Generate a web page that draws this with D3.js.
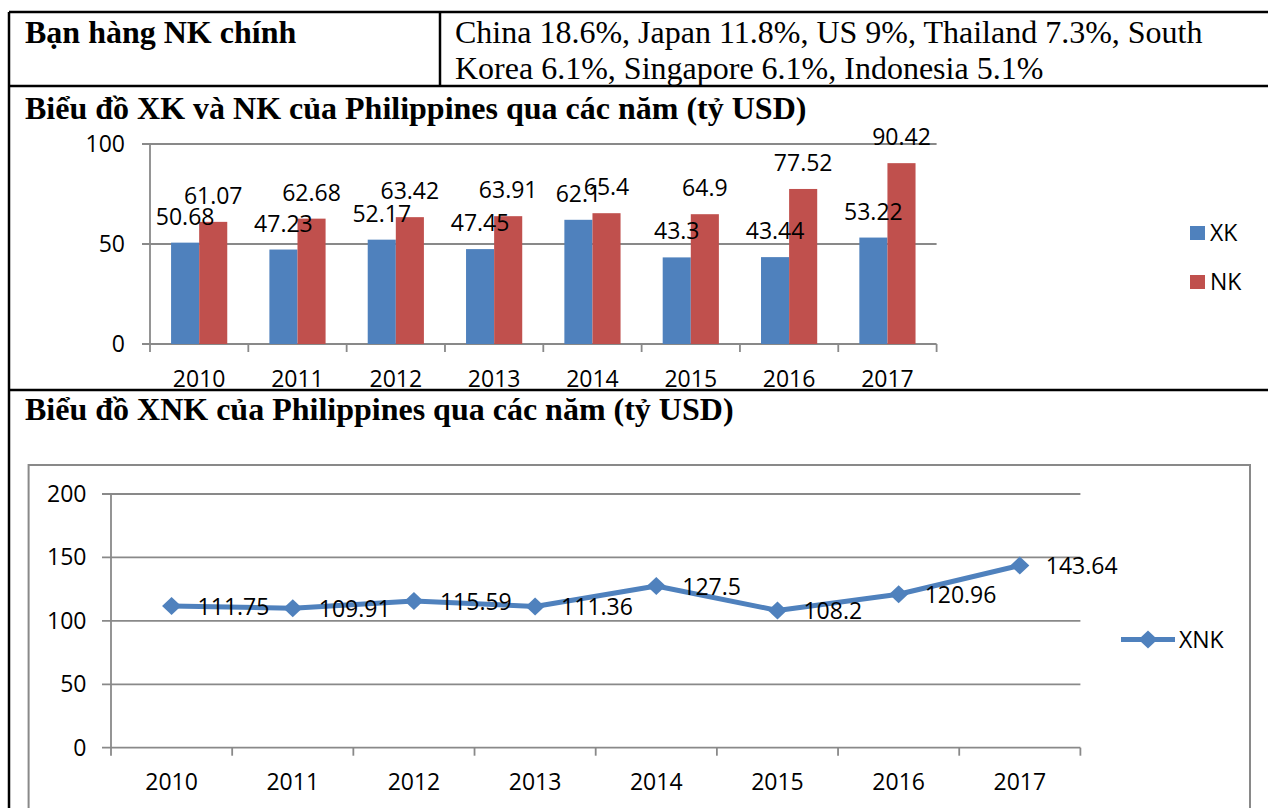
<!DOCTYPE html>
<html>
<head>
<meta charset="utf-8">
<script src="https://cdn.jsdelivr.net/npm/d3@7"></script>
<style>
  body { margin: 0; background: #fff; }
  .serif { font-family: "Liberation Serif", "Times New Roman", serif; font-size: 32px; fill: #000; }
  .lbl { font-family: "Open Sans", "Noto Sans", sans-serif; font-size: 23px; fill: #000; }
</style>
</head>
<body>
<svg id="page"></svg>
<script>
// data
const years = ["2010", "2011", "2012", "2013", "2014", "2015", "2016", "2017"];
const exportVals = [50.68, 47.23, 52.17, 47.45, 62.1, 43.3, 43.44, 53.22];
const importVals = [61.07, 62.68, 63.42, 63.91, 65.4, 64.9, 77.52, 90.42];
const totalVals = [111.75, 109.91, 115.59, 111.36, 127.5, 108.2, 120.96, 143.64];
const barSeries = ["XK", "NK"];
const lineSeries = ["XNK"];
const barTicks = [0, 50, 100];
const lineTicks = [0, 50, 100, 150, 200];
const partnerHead = "Bạn hàng NK chính";
const partnerText = ["China 18.6%, Japan 11.8%, US 9%, Thailand 7.3%, South",
                     "Korea 6.1%, Singapore 6.1%, Indonesia 5.1%"];
const barTitle = "Biểu đồ XK và NK của Philippines qua các năm (tỷ USD)";
const lineTitle = "Biểu đồ XNK của Philippines qua các năm (tỷ USD)";

const W = 1268, H = 808;
const blue = "#4f81bd", red = "#c0504d", grey = "#898989";

const svg = d3.select("#page")
    .attr("width", W)
    .attr("height", H);

svg.append("rect").attr("width", W).attr("height", H).attr("fill", "#fff");

// ---- table frame (word document look) ----
const frame = svg.append("g")
    .attr("stroke", "#000")
    .attr("stroke-width", 2.5);
frame.append("line").attr("x1", 9).attr("x2", W).attr("y1", 12).attr("y2", 12);
frame.append("line").attr("x1", 9).attr("x2", W).attr("y1", 86).attr("y2", 86);
frame.append("line").attr("x1", 9).attr("x2", W).attr("y1", 390).attr("y2", 390);
frame.append("line").attr("x1", 9).attr("x2", 9).attr("y1", 12).attr("y2", H);
frame.append("line").attr("x1", 440).attr("x2", 440).attr("y1", 12).attr("y2", 86);

svg.append("text")
    .attr("class", "serif")
    .attr("x", 25).attr("y", 43)
    .attr("font-weight", "bold")
    .text(partnerHead);

svg.append("g").selectAll("text")
    .data(partnerText)
    .enter().append("text")
    .attr("class", "serif")
    .attr("x", 455)
    .attr("y", (d, i) => 43 + i * 36)
    .text(d => d);

svg.append("text")
    .attr("class", "serif")
    .attr("x", 25).attr("y", 119)
    .attr("font-weight", "bold")
    .text(barTitle);

svg.append("text")
    .attr("class", "serif")
    .attr("x", 25).attr("y", 420)
    .attr("font-weight", "bold")
    .text(lineTitle);

// ---- bar chart ----
const bar = { left: 150, right: 936.6, top: 144, bottom: 344 };

const x0 = d3.scaleBand()
    .domain(years)
    .range([bar.left, bar.right]);

const x1 = d3.scaleBand()
    .domain(barSeries)
    .range([0, x0.bandwidth()])
    .paddingOuter(0.75);

const yBar = d3.scaleLinear()
    .domain([0, 100])
    .range([bar.bottom, bar.top]);

const colour = d3.scaleOrdinal()
    .domain(barSeries)
    .range([blue, red]);

const barG = svg.append("g");

barG.append("g").selectAll("line")
    .data(barTicks)
    .enter().append("line")
    .attr("x1", bar.left - 8)
    .attr("x2", bar.right)
    .attr("y1", d => yBar(d))
    .attr("y2", d => yBar(d))
    .attr("stroke", grey)
    .attr("stroke-width", 1.8);

barG.append("line")
    .attr("x1", bar.left).attr("x2", bar.left)
    .attr("y1", bar.top).attr("y2", bar.bottom)
    .attr("stroke", grey).attr("stroke-width", 1.8);

// tick marks at band edges
barG.append("g").selectAll("line")
    .data(years.map(d => x0(d)).concat([bar.right]))
    .enter().append("line")
    .attr("x1", d => d).attr("x2", d => d)
    .attr("y1", bar.bottom).attr("y2", bar.bottom + 8)
    .attr("stroke", grey).attr("stroke-width", 1.8);

barG.append("g").selectAll("text")
    .data(barTicks)
    .enter().append("text")
    .attr("class", "lbl")
    .attr("text-anchor", "end")
    .attr("x", bar.left - 25)
    .attr("y", d => yBar(d) + 8)
    .text(d => d);

barG.append("g").selectAll("text")
    .data(years)
    .enter().append("text")
    .attr("class", "lbl")
    .attr("text-anchor", "middle")
    .attr("x", d => x0(d) + x0.bandwidth() / 2)
    .attr("y", bar.bottom + 43)
    .text(d => d);

const barData = [];
years.forEach((yr, i) => {
    barData.push({ year: yr, key: "XK", value: exportVals[i] });
    barData.push({ year: yr, key: "NK", value: importVals[i] });
});

barG.append("g").selectAll("rect")
    .data(barData)
    .enter().append("rect")
    .attr("x", d => x0(d.year) + x1(d.key))
    .attr("y", d => yBar(d.value))
    .attr("width", x1.bandwidth())
    .attr("height", d => yBar(0) - yBar(d.value))
    .attr("fill", d => colour(d.key));

barG.append("g").selectAll("text")
    .data(barData)
    .enter().append("text")
    .attr("class", "lbl")
    .attr("text-anchor", "middle")
    .attr("x", d => x0(d.year) + x1(d.key) + x1.bandwidth() / 2)
    .attr("y", d => yBar(d.value) - 18)
    .text(d => d.value);

const barLegend = barG.append("g").selectAll("g")
    .data(barSeries)
    .enter().append("g")
    .attr("transform", (d, i) => "translate(1190," + (233 + i * 49) + ")");
barLegend.append("rect")
    .attr("y", -7).attr("width", 15).attr("height", 14)
    .attr("fill", d => colour(d));
barLegend.append("text")
    .attr("class", "lbl")
    .attr("x", 20).attr("y", 8)
    .text(d => d);

// ---- line chart ----
const ln = { left: 111, right: 1080.4, top: 494, bottom: 747.7 };

svg.append("rect")
    .attr("x", 28.6).attr("y", 465)
    .attr("width", 1250 - 28.6).attr("height", 400)
    .attr("fill", "none")
    .attr("stroke", grey).attr("stroke-width", 2);

const xLine = d3.scaleBand()
    .domain(years)
    .range([ln.left, ln.right]);

const yLine = d3.scaleLinear()
    .domain([0, 200])
    .range([ln.bottom, ln.top]);

const lineG = svg.append("g");

lineG.append("g").selectAll("line")
    .data(lineTicks)
    .enter().append("line")
    .attr("x1", ln.left - 9)
    .attr("x2", ln.right)
    .attr("y1", d => yLine(d))
    .attr("y2", d => yLine(d))
    .attr("stroke", grey)
    .attr("stroke-width", 1.8);

lineG.append("line")
    .attr("x1", ln.left).attr("x2", ln.left)
    .attr("y1", ln.top).attr("y2", ln.bottom)
    .attr("stroke", grey).attr("stroke-width", 1.8);

lineG.append("g").selectAll("line")
    .data(years.map(d => xLine(d)).concat([ln.right]))
    .enter().append("line")
    .attr("x1", d => d).attr("x2", d => d)
    .attr("y1", ln.bottom).attr("y2", ln.bottom + 8)
    .attr("stroke", grey).attr("stroke-width", 1.8);

lineG.append("g").selectAll("text")
    .data(lineTicks)
    .enter().append("text")
    .attr("class", "lbl")
    .attr("text-anchor", "end")
    .attr("x", ln.left - 24.5)
    .attr("y", d => yLine(d) + 8)
    .text(d => d);

lineG.append("g").selectAll("text")
    .data(years)
    .enter().append("text")
    .attr("class", "lbl")
    .attr("text-anchor", "middle")
    .attr("x", d => xLine(d) + xLine.bandwidth() / 2)
    .attr("y", ln.bottom + 42)
    .text(d => d);

const pts = years.map((yr, i) => ({ year: yr, value: totalVals[i] }));
const px = d => xLine(d.year) + xLine.bandwidth() / 2;

const line = d3.line()
    .x(px)
    .y(d => yLine(d.value));

lineG.append("path")
    .datum(pts)
    .attr("d", line)
    .attr("fill", "none")
    .attr("stroke", blue)
    .attr("stroke-width", 5)
    .attr("stroke-linejoin", "round");

const diamond = "M0,-9L9.5,0L0,9L-9.5,0Z";

lineG.append("g").selectAll("path")
    .data(pts)
    .enter().append("path")
    .attr("d", diamond)
    .attr("transform", d => "translate(" + px(d) + "," + yLine(d.value) + ")")
    .attr("fill", blue);

lineG.append("g").selectAll("text")
    .data(pts)
    .enter().append("text")
    .attr("class", "lbl")
    .attr("x", d => px(d) + 26)
    .attr("y", d => yLine(d.value) + 9)
    .text(d => d.value);

const lineLegend = lineG.append("g")
    .attr("transform", "translate(1121,639.5)");
lineLegend.append("line")
    .attr("x1", 0).attr("x2", 54)
    .attr("stroke", blue).attr("stroke-width", 5);
lineLegend.append("path")
    .attr("d", diamond)
    .attr("transform", "translate(27,0)")
    .attr("fill", blue);
lineLegend.append("text")
    .attr("class", "lbl")
    .attr("x", 58).attr("y", 8)
    .text(lineSeries[0]);
</script>
</body>
</html>
